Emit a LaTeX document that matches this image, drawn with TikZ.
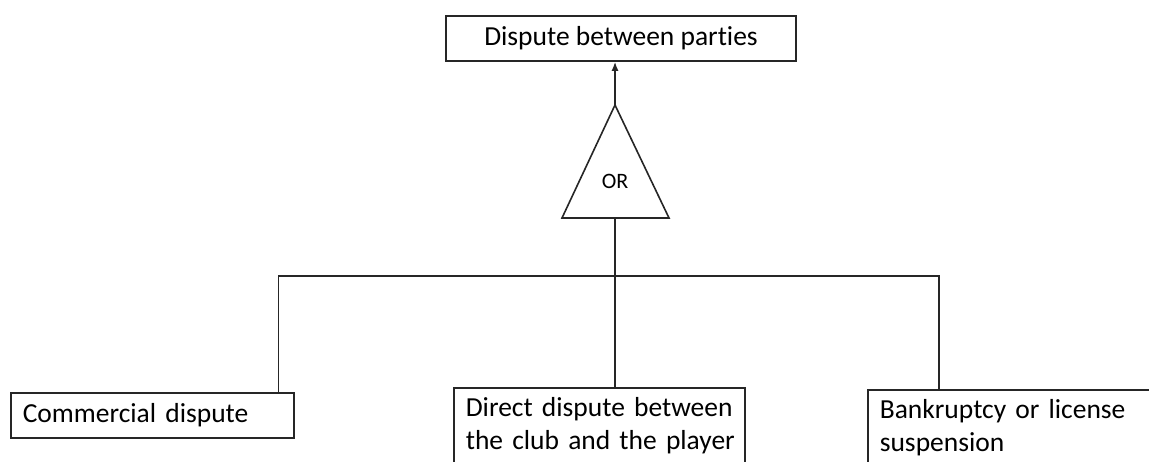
\documentclass[tikz,border=0pt]{standalone}
\usepackage{fontspec}
\setmainfont{Carlito}[Ligatures=NoCommon]
\usepackage{tikz}
\usetikzlibrary{arrows.meta, positioning, calc}

\begin{document}
\begin{tikzpicture}[x=1pt, y=-1pt, line width=1.6pt, font=\fontsize{27.5}{33}\selectfont]
\tikzstyle{box} = [rectangle, draw=black!85, inner xsep=12pt, inner ysep=10pt, text badly ragged, align=left]
\tikzstyle{arrow} = [-{Latex[length=9pt, width=7pt]}]

\useasboundingbox (0,0) rectangle (1149,462);

\node (top) [rectangle, draw=black!85, minimum width=350pt, minimum height=45pt] at (621,38.5) {Dispute between parties};

% OR gate
\draw [black!85] (615,105) coordinate (apex) -- (669,218) -- (562,218) -- cycle;
\coordinate (base) at (615,218);
\node (gate) [font=\fontsize{22}{26}\selectfont] at (615,181) {OR};

\node (comm) [box, anchor=north west, text width=259pt, minimum height=45pt] at (10,392) {Commercial dispute};
\node (direct) [box, anchor=north west, text width=267pt] at (453,387) {\mbox{Direct dispute between}\\\mbox{the club and the player}};
\node (bank) [box, anchor=north west, text width=269pt] at (867,389) {\mbox{Bankruptcy or license}\\suspension};

\coordinate (split) at (615,276);

\draw [arrow, black!85] (apex) -- (apex |- top.south);
\draw [black!85] (base) -- (base |- direct.north);
\draw [black!85] ($(comm.north east)+(-16,0)$) |- (split) -| ($(bank.north west)+(72,0)$);

\end{tikzpicture}
\end{document}
